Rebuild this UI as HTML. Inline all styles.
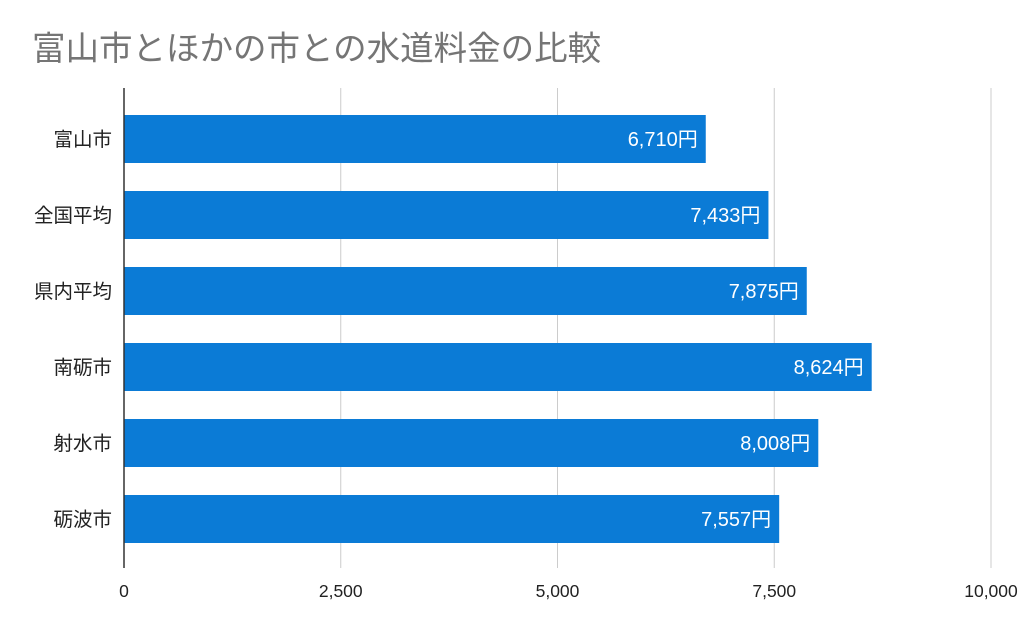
<!DOCTYPE html>
<html><head><meta charset="utf-8"><style>
body{margin:0;background:#fff;}
svg text{font-family:"Liberation Sans","Noto Sans CJK JP",sans-serif;}
</style></head><body>
<svg width="1024" height="633" xmlns="http://www.w3.org/2000/svg">
<text x="32" y="60" font-size="33.5" fill="#757575">富山市とほかの市との水道料金の比較</text>
<g id="grid"></g><g id="bars"></g><g id="labels"></g>
<line x1="124" y1="88" x2="124" y2="568" stroke="#333" stroke-width="1.5"/>
</svg>
<script>
const categories=["富山市","全国平均","県内平均","南砺市","射水市","砺波市"];
const values=[6710,7433,7875,8624,8008,7557];
const ticks=[0,2500,5000,7500,10000];
const tickLabels=["0","2,500","5,000","7,500","10,000"];
const NS="http://www.w3.org/2000/svg";
const x=v=>124+v*(991-124)/10000;
const yc=i=>139+i*76;
const g=document.getElementById('grid'),b=document.getElementById('bars'),l=document.getElementById('labels');
function mk(tag,attrs,parent,txt){const e=document.createElementNS(NS,tag);for(const k in attrs)e.setAttribute(k,attrs[k]);if(txt!==undefined)e.textContent=txt;parent.appendChild(e);return e;}
ticks.forEach((t,i)=>{
 if(t>0){const ln=mk('line',{x1:x(t),x2:x(t),y1:88,y2:568,stroke:'#ccc','stroke-width':1},g);
 
 }
 const tx=mk('text',{x:x(t),y:597,'font-size':17.5,fill:'#222','text-anchor':'middle'},l,tickLabels[i]);
 
 
});
categories.forEach((c,i)=>{
 const r=mk('rect',{x:x(0),y:yc(i)-24,width:x(values[i])-x(0),height:48,fill:'#0b7bd6'},b);
 
 
 const v=mk('text',{x:x(values[i])-8,y:yc(i)+7,'font-size':20,fill:'#fff','text-anchor':'end'},l,values[i].toLocaleString('en-US')+'円');
 
 
 const cl=mk('text',{x:112,y:yc(i)+7,'font-size':19.5,fill:'#222','text-anchor':'end'},l,c);
 
 
});
</script>
</body></html>
